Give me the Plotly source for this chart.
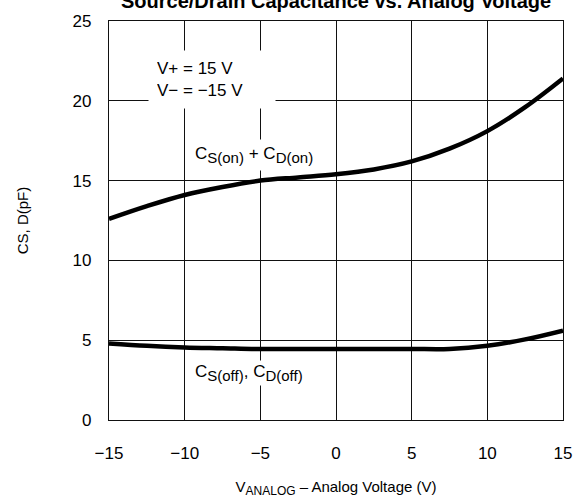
import plotly.graph_objects as go

v_analog = [-15, -12.5, -10, -7.5, -5, -2.5, 0, 2.5, 5, 7.5, 10, 12.5, 15]
c_on = [12.6, 13.4, 14.1, 14.6, 15.0, 15.2, 15.4, 15.7, 16.2, 17.0, 18.1, 19.6, 21.4]
c_off = [4.8, 4.65, 4.55, 4.5, 4.45, 4.45, 4.45, 4.45, 4.45, 4.45, 4.65, 5.05, 5.6]

x_ticks = [-15, -10, -5, 0, 5, 10, 15]
x_tick_text = ["\u221215", "\u221210", "\u22125", "0", "5", "10", "15"]
y_ticks = [0, 5, 10, 15, 20, 25]

FONT = "Liberation Sans, Arial, sans-serif"


def sub(t, size):
    return '<sub><span style="font-size:%dpx">%s</span></sub>' % (size, t)


fig = go.Figure()
fig.add_trace(go.Scatter(x=v_analog, y=c_on, mode="lines",
                         line=dict(color="black", width=4.5, shape="spline"), showlegend=False))
fig.add_trace(go.Scatter(x=v_analog, y=c_off, mode="lines",
                         line=dict(color="black", width=4.5, shape="spline"), showlegend=False))

fig.update_layout(
    width=584, height=504,
    margin=dict(l=109, r=14, t=18, b=75),
    paper_bgcolor="white", plot_bgcolor="white",
    font=dict(family=FONT, color="black", size=17),
    xaxis=dict(range=[-15, 15], tickvals=x_ticks, ticktext=x_tick_text, showgrid=True,
               gridcolor="#111", gridwidth=1, showline=True, linecolor="#111", linewidth=1.3, mirror=True,
               ticks="", zeroline=False, tickfont=dict(size=17), ticklabelstandoff=17,
               title=dict(text="V" + sub("ANALOG", 12) + " \u2013 Analog Voltage (V)",
                          font=dict(size=15), standoff=19)),
    yaxis=dict(range=[0, 25], tickvals=y_ticks, showgrid=True,
               gridcolor="#111", gridwidth=1, showline=True, linecolor="#111", linewidth=1.3, mirror=True,
               ticks="", zeroline=False, tickfont=dict(size=17), ticklabelstandoff=13,
               title=dict(text="CS, D(pF)", font=dict(size=15), standoff=40)),
)

fig.add_annotation(xref="paper", yref="paper", x=0.5, y=1, yshift=7, yanchor="bottom",
                   text="<b>Source/Drain Capacitance vs. Analog Voltage</b>", showarrow=False,
                   font=dict(size=20))
fig.add_annotation(x=-12.4, y=21.35, xanchor="left", yanchor="middle", width=110,
                   text="V+ = 15 V<br>V\u2212 = \u221215 V", showarrow=False,
                   align="left", bgcolor="white", borderpad=8, font=dict(size=17))
fig.add_annotation(x=-5.45, y=16.6,
                   text="C" + sub("S(on)", 15) + " + C" + sub("D(on)", 15), showarrow=False,
                   bgcolor="white", borderpad=4, font=dict(size=17))
fig.add_annotation(x=-5.75, y=2.95,
                   text="C" + sub("S(off)", 15) + ", C" + sub("D(off)", 15), showarrow=False,
                   bgcolor="white", borderpad=1, font=dict(size=17))

fig.write_html("out.html")
